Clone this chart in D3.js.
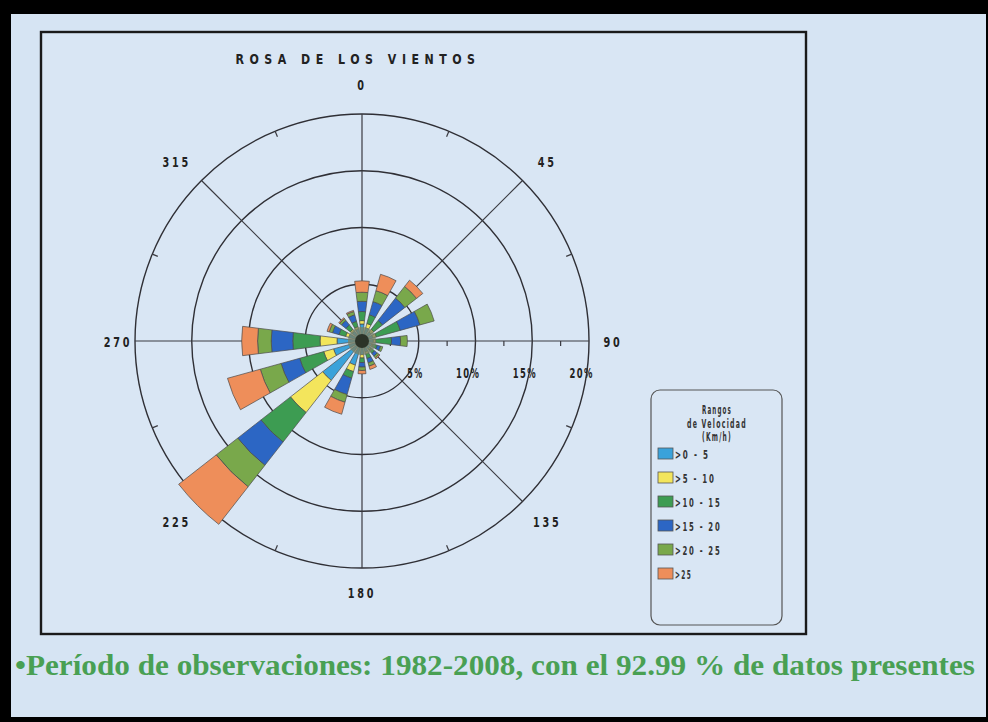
<!DOCTYPE html>
<html>
<head>
<meta charset="utf-8">
<script src="https://cdn.jsdelivr.net/npm/d3@7"></script>
<style>
  html, body { margin: 0; padding: 0; background: #000; }
  svg { display: block; }
</style>
</head>
<body>
<svg id="chart" width="988" height="722"></svg>
<script>
// ---------- DATA ----------
const directions = [0, 22.5, 45, 67.5, 90, 112.5, 135, 157.5, 180, 202.5, 225, 247.5, 270, 292.5, 315, 337.5];
const directionLabels = ["0", "45", "90", "135", "180", "225", "270", "315"];
const speedClasses = [">0 - 5", ">5 - 10", ">10 - 15", ">15 - 20", ">20 - 25", ">25"];
// percent frequency per direction for each speed class
const s0_5   = [1.5, 1.2, 1.0, 1.0, 1.0, 0.9, 0.9, 1.0, 1.2, 2.2, 4.4, 2.6, 2.2, 1.2, 1.1, 1.1];
const s5_10  = [0.3, 0.4, 0.3, 0.3, 0.2, 0.1, 0.1, 0.2, 0.3, 0.6, 3.6, 0.9, 1.5, 0.3, 0.2, 0.2];
const s10_15 = [0.8, 0.8, 1.0, 2.2, 1.4, 0.4, 0.4, 0.4, 0.4, 0.6, 3.3, 2.2, 2.4, 0.6, 0.5, 0.5];
const s15_20 = [0.9, 1.2, 2.5, 1.8, 0.8, 0.3, 0.3, 0.4, 0.4, 1.5, 2.6, 1.7, 1.9, 0.6, 0.5, 0.6];
const s20_25 = [0.8, 1.0, 1.3, 1.3, 0.6, 0.2, 0.2, 0.3, 0.3, 0.7, 2.4, 1.9, 1.2, 0.3, 0.2, 0.3];
const s25    = [1.0, 1.5, 0.7, 0.0, 0.0, 0.0, 0.1, 0.3, 0.3, 1.1, 4.2, 3.0, 1.4, 0.2, 0.1, 0.1];
const ringTicks = [5, 10, 15, 20];
const ringLabels = ["5%", "10%", "15%", "20%"];
const minorTicks = [2.5, 7.5, 12.5, 17.5];
const speedColors = ["#3aa2da", "#f3e55c", "#3d9c52", "#2c66c4", "#79a84b", "#ee8e5a"];
const titleText = "ROSA DE LOS VIENTOS";
const legendTitle = ["Rangos", "de Velocidad", "(Km/h)"];
const footnote = "\u2022Período  de observaciones: 1982-2008, con el 92.99 % de datos presentes";

// ---------- BUILD ----------
const series = [s0_5, s5_10, s10_15, s15_20, s20_25, s25];
const rows = directions.map((d, i) => {
  const o = { dir: d };
  speedClasses.forEach((c, k) => o[c] = series[k][i]);
  return o;
});
const stacked = d3.stack().keys(speedClasses)(rows);

const svg = d3.select("#chart");
const W = 988, H = 722;
const bg = "#d6e4f3";
const narrow = "'DejaVu Sans','Liberation Sans',sans-serif";

// helper: condensed-looking text, squeezed to a width proportional to its characters
function cond(sel, perChar, size, spacing) {
  sel.attr("font-family", narrow).attr("font-weight", "bold")
    .attr("font-size", size).attr("letter-spacing", spacing)
    .attr("lengthAdjust", "spacingAndGlyphs")
    .attr("textLength", function () { return this.textContent.length * perChar; });
  return sel;
}

// black frame and page
svg.append("rect").attr("x", 0).attr("y", 0).attr("width", W).attr("height", H).attr("fill", "#000");
svg.append("rect").attr("x", 11).attr("y", 14).attr("width", 975).attr("height", 703).attr("fill", bg);

// chart panel
svg.append("rect").attr("x", 41).attr("y", 32).attr("width", 765).attr("height", 602)
  .attr("fill", "#d9e6f4").attr("stroke", "#1a1a1a").attr("stroke-width", 2.4);

const cx = 362, cy = 341;
const r = d3.scaleLinear().domain([0, 20]).range([0, 227]);
const ang = d3.scaleLinear().domain([0, 360]).range([0, 2 * Math.PI]);
const g = svg.append("g").attr("transform", `translate(${cx},${cy})`);

// grid rings
g.selectAll("circle.ring").data(ringTicks).join("circle")
  .attr("r", d => r(d)).attr("fill", "none").attr("stroke", "#2f2f35").attr("stroke-width", 1.4);

// spokes every 45 deg
const spokeAngles = [0, 45, 90, 135];
g.selectAll("line.spoke").data(spokeAngles).join("line")
  .attr("x1", d => Math.sin(ang(d)) * r(20)).attr("y1", d => -Math.cos(ang(d)) * r(20))
  .attr("x2", d => -Math.sin(ang(d)) * r(20)).attr("y2", d => Math.cos(ang(d)) * r(20))
  .attr("stroke", "#3a3a40").attr("stroke-width", 1.2);

// outer ring minor ticks at intermediate directions
const outerTickAngles = [22.5, 67.5, 112.5, 157.5, 202.5, 247.5, 292.5, 337.5];
g.selectAll("line.otick").data(outerTickAngles).join("line")
  .attr("x1", d => Math.sin(ang(d)) * r(20)).attr("y1", d => -Math.cos(ang(d)) * r(20))
  .attr("x2", d => Math.sin(ang(d)) * (r(20) - 6)).attr("y2", d => -Math.cos(ang(d)) * (r(20) - 6))
  .attr("stroke", "#3a3a40").attr("stroke-width", 1.2);

// radial axis minor ticks
g.selectAll("line.rtick").data(minorTicks).join("line")
  .attr("x1", d => r(d)).attr("x2", d => r(d)).attr("y1", 0).attr("y2", 5)
  .attr("stroke", "#3a3a40").attr("stroke-width", 1.2);

// bars
const half = 7;
const arc = d3.arc();
stacked.forEach((layer, k) => {
  g.selectAll(null).data(layer).join("path")
    .attr("d", d => arc({
      innerRadius: r(d[0]), outerRadius: r(d[1]),
      startAngle: ang(d.data.dir - half), endAngle: ang(d.data.dir + half)
    }))
    .attr("fill", speedColors[k])
    .attr("stroke", "#4a4a4a").attr("stroke-width", d => (d[1] - d[0]) > 0 ? 0.7 : 0)
    .attr("stroke-linejoin", "round");
});

// calms centre
g.append("circle").attr("r", 14).attr("fill", "#78836a").attr("opacity", 0.8);
g.append("circle").attr("r", 7).attr("fill", "#2c3328");

// radial labels
g.selectAll("text.rl").data(ringTicks).join("text")
  .attr("x", d => r(d) + 5).attr("y", 37)
  .attr("text-anchor", "end").attr("fill", "#222")
  .text((d, i) => ringLabels[i])
  .call(cond, 8.2, 14, 2.5);

// direction labels
const labelAngles = [0, 45, 90, 135, 180, 225, 270, 315];
const lblRx = d => (d === 90 ? 251 : d === 270 ? 244 : 262);
const lblRy = d => (d === 0 ? 257 : d === 180 ? 251 : 255);
g.selectAll("text.dl").data(labelAngles).join("text")
  .attr("x", d => Math.sin(ang(d)) * lblRx(d))
  .attr("y", d => -Math.cos(ang(d)) * lblRy(d) + 6)
  .attr("text-anchor", "middle").attr("fill", "#222")
  .text((d, i) => directionLabels[i])
  .call(cond, 9.5, 14, 4);

// title
svg.append("text").attr("x", 358).attr("y", 64).attr("text-anchor", "middle")
  .attr("fill", "#222").text(titleText)
  .call(cond, 12.9, 14, 7);

// legend
const lg = svg.append("g");
lg.append("rect").attr("x", 651).attr("y", 390).attr("width", 131).attr("height", 235)
  .attr("rx", 9).attr("fill", "none").attr("stroke", "#555").attr("stroke-width", 1.2);
lg.selectAll("text.lt").data(legendTitle).join("text")
  .attr("x", 717).attr("y", (d, i) => 414 + i * 13.5).attr("text-anchor", "middle")
  .attr("fill", "#333").text(d => d)
  .call(cond, 5.0, 12, 2.5);
const itemY = d3.scalePoint().domain(speedClasses).range([454, 574]);
lg.selectAll("rect.sw").data(speedClasses).join("rect")
  .attr("x", 658).attr("y", d => itemY(d) - 6).attr("width", 15).attr("height", 11)
  .attr("fill", (d, i) => speedColors[i]).attr("stroke", "#555").attr("stroke-width", 0.8);
lg.selectAll("text.li").data(speedClasses).join("text")
  .attr("x", 675).attr("y", d => itemY(d) + 5)
  .attr("fill", "#333").text(d => d)
  .call(cond, 5.8, 12, 3);

// footnote
svg.append("text").attr("x", 15).attr("y", 675)
  .attr("font-family", "'Liberation Serif','Times New Roman',serif").attr("font-weight", "bold")
  .attr("font-size", 29).attr("fill", "#49a053")
  .attr("textLength", 960).attr("lengthAdjust", "spacingAndGlyphs")
  .text(footnote);
</script>
</body>
</html>
